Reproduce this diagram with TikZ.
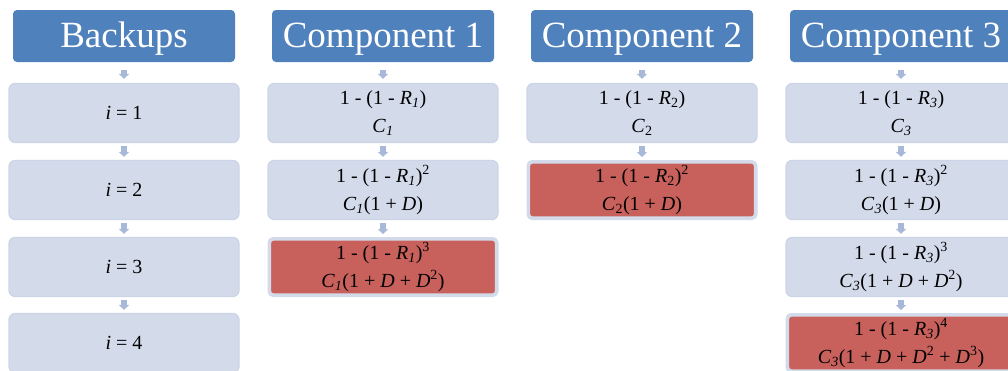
\documentclass[tikz,border=0pt]{standalone}
\usepackage{fontspec}
\setmainfont{Liberation Serif}
\usetikzlibrary{arrows.meta,calc}
\definecolor{hdrblue}{HTML}{4F81BD}
\definecolor{boxfill}{HTML}{D3DAEA}
\definecolor{boxline}{HTML}{CCD4E7}
\definecolor{redfill}{HTML}{C8605C}
\definecolor{arrowc}{HTML}{A8B8D8}
\newcommand{\sbi}[1]{\textsubscript{\textit{#1}}}
\begin{document}
\begin{tikzpicture}[x=1pt,y=-1pt,
  hdr/.style={fill=hdrblue, rounded corners=4pt, minimum width=222pt, minimum height=52pt,
    text=white, font=\fontsize{37}{40}\selectfont, inner sep=0pt,
    text height=26pt, text depth=3pt},
  cell/.style={fill=boxfill, draw=boxline, line width=1.2pt, rounded corners=6pt,
    minimum width=230pt, minimum height=59pt, align=center,
    font=\fontsize{20}{28}\selectfont, inner sep=0pt},
  redcell/.style={cell, fill=redfill, draw=boxfill, line width=3.6pt, rounded corners=4pt,
    minimum width=227.4pt, minimum height=56.4pt},
  link/.style={draw=arrowc, line width=6pt, -{Triangle[width=10pt,length=5pt]},
    shorten <=3pt, shorten >=3pt},
  hlink/.style={link, shorten <=8pt, shorten >=4pt}
]
\clip (0,0) rectangle (1008,370);
\fill[white] (0,0) rectangle (1008,370);

% Backups
\node[hdr] (hb) at (124,36) {Backups};
\node[cell] (b1) at (124,113) {\textit{i} = 1};
\node[cell] (b2) at (124,190) {\textit{i} = 2};
\node[cell] (b3) at (124,267) {\textit{i} = 3};
\node[cell] (b4) at (124,343) {\textit{i} = 4};

% Component 1
\node[hdr] (h1) at (383,36) {Component 1};
\node[cell] (c11) at (383,113) {1 - (1 - \textit{R}\sbi{1})\\\textit{C}\sbi{1}};
\node[cell] (c12) at (383,190) {1 - (1 - \textit{R}\sbi{1})\textsuperscript{2}\\\textit{C}\sbi{1}(1 + \textit{D})};
\node[redcell] (c13) at (383,267) {1 - (1 - \textit{R}\sbi{1})\textsuperscript{3}\\\textit{C}\sbi{1}(1 + \textit{D} + \textit{D}\textsuperscript{2})};

% Component 2
\node[hdr] (h2) at (642,36) {Component 2};
\node[cell] (c21) at (642,113) {1 - (1 - \textit{R}\textsubscript{2})\\\textit{C}\textsubscript{2}};
\node[redcell] (c22) at (642,190) {1 - (1 - \textit{R}\textsubscript{2})\textsuperscript{2}\\\textit{C}\textsubscript{2}(1 + \textit{D})};

% Component 3
\node[hdr] (h3) at (901,36) {Component 3};
\node[cell] (c31) at (901,113) {1 - (1 - \textit{R}\sbi{3})\\\textit{C}\sbi{3}};
\node[cell] (c32) at (901,190) {1 - (1 - \textit{R}\sbi{3})\textsuperscript{2}\\\textit{C}\sbi{3}(1 + \textit{D})};
\node[cell] (c33) at (901,267) {1 - (1 - \textit{R}\sbi{3})\textsuperscript{3}\\\textit{C}\sbi{3}(1 + \textit{D} + \textit{D}\textsuperscript{2})};
\node[redcell] (c34) at (901,343) {1 - (1 - \textit{R}\sbi{3})\textsuperscript{4}\\\textit{C}\sbi{3}(1 + \textit{D} + \textit{D}\textsuperscript{2} + \textit{D}\textsuperscript{3})};

% arrows
\draw[hlink] (hb.south) -- (b1.north);
\draw[link] (b1.south) -- (b2.north);
\draw[link] (b2.south) -- (b3.north);
\draw[link] (b3.south) -- (b4.north);
\draw[hlink] (h1.south) -- (c11.north);
\draw[link] (c11.south) -- (c12.north);
\draw[link] (c12.south) -- (c13.north);
\draw[hlink] (h2.south) -- (c21.north);
\draw[link] (c21.south) -- (c22.north);
\draw[hlink] (h3.south) -- (c31.north);
\draw[link] (c31.south) -- (c32.north);
\draw[link] (c32.south) -- (c33.north);
\draw[link] (c33.south) -- (c34.north);
\end{tikzpicture}
\end{document}
